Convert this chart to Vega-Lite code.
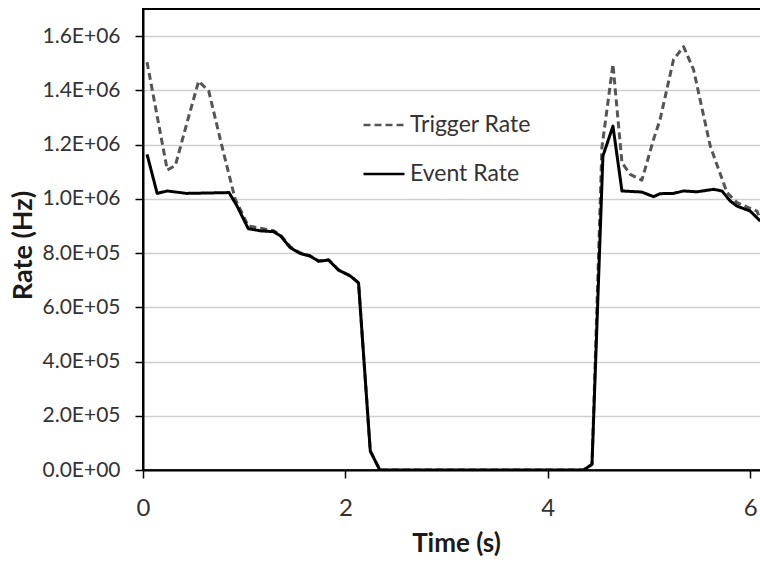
{
  "$schema": "https://vega.github.io/schema/vega-lite/v6.json",
  "width": 618,
  "height": 461,
  "autosize": {"type": "none"},
  "padding": {"left": 143, "top": 9, "right": 0, "bottom": 96},
  "background": "white",
  "config": {
    "view": {"stroke": "#000000", "strokeWidth": 2},
    "font": "Lato"
  },
  "data": {
    "values": [
      {"t": 0.04, "rate": 1504000, "series": "Trigger Rate"},
      {"t": 0.24, "rate": 1106000, "series": "Trigger Rate"},
      {"t": 0.32, "rate": 1123000, "series": "Trigger Rate"},
      {"t": 0.435, "rate": 1281000, "series": "Trigger Rate"},
      {"t": 0.55, "rate": 1434000, "series": "Trigger Rate"},
      {"t": 0.65, "rate": 1397000, "series": "Trigger Rate"},
      {"t": 0.78, "rate": 1194000, "series": "Trigger Rate"},
      {"t": 0.91, "rate": 1000000, "series": "Trigger Rate"},
      {"t": 1.04, "rate": 900000, "series": "Trigger Rate"},
      {"t": 1.23, "rate": 887000, "series": "Trigger Rate"},
      {"t": 1.29, "rate": 882000, "series": "Trigger Rate"},
      {"t": 1.36, "rate": 866000, "series": "Trigger Rate"},
      {"t": 1.455, "rate": 823000, "series": "Trigger Rate"},
      {"t": 1.55, "rate": 801000, "series": "Trigger Rate"},
      {"t": 1.65, "rate": 790000, "series": "Trigger Rate"},
      {"t": 1.735, "rate": 771000, "series": "Trigger Rate"},
      {"t": 1.834, "rate": 775000, "series": "Trigger Rate"},
      {"t": 1.933, "rate": 738000, "series": "Trigger Rate"},
      {"t": 2.05, "rate": 716000, "series": "Trigger Rate"},
      {"t": 2.13, "rate": 690000, "series": "Trigger Rate"},
      {"t": 2.246, "rate": 70000, "series": "Trigger Rate"},
      {"t": 2.34, "rate": 0, "series": "Trigger Rate"},
      {"t": 4.354, "rate": 0, "series": "Trigger Rate"},
      {"t": 4.437, "rate": 21000, "series": "Trigger Rate"},
      {"t": 4.535, "rate": 1189000, "series": "Trigger Rate"},
      {"t": 4.644, "rate": 1496000, "series": "Trigger Rate"},
      {"t": 4.733, "rate": 1133000, "series": "Trigger Rate"},
      {"t": 4.815, "rate": 1090000, "series": "Trigger Rate"},
      {"t": 4.93, "rate": 1069000, "series": "Trigger Rate"},
      {"t": 5.045, "rate": 1219000, "series": "Trigger Rate"},
      {"t": 5.11, "rate": 1293000, "series": "Trigger Rate"},
      {"t": 5.243, "rate": 1514000, "series": "Trigger Rate"},
      {"t": 5.342, "rate": 1561000, "series": "Trigger Rate"},
      {"t": 5.44, "rate": 1477000, "series": "Trigger Rate"},
      {"t": 5.606, "rate": 1194000, "series": "Trigger Rate"},
      {"t": 5.771, "rate": 1023000, "series": "Trigger Rate"},
      {"t": 5.87, "rate": 986000, "series": "Trigger Rate"},
      {"t": 6.0, "rate": 965000, "series": "Trigger Rate"},
      {"t": 6.067, "rate": 955000, "series": "Trigger Rate"},
      {"t": 6.1, "rate": 924000, "series": "Trigger Rate"},
      {"t": 0.04, "rate": 1164000, "series": "Event Rate"},
      {"t": 0.14, "rate": 1020000, "series": "Event Rate"},
      {"t": 0.24, "rate": 1029000, "series": "Event Rate"},
      {"t": 0.43, "rate": 1020000, "series": "Event Rate"},
      {"t": 0.85, "rate": 1023000, "series": "Event Rate"},
      {"t": 0.93, "rate": 973000, "series": "Event Rate"},
      {"t": 1.04, "rate": 890000, "series": "Event Rate"},
      {"t": 1.16, "rate": 882000, "series": "Event Rate"},
      {"t": 1.29, "rate": 879000, "series": "Event Rate"},
      {"t": 1.36, "rate": 863000, "series": "Event Rate"},
      {"t": 1.455, "rate": 820000, "series": "Event Rate"},
      {"t": 1.55, "rate": 799000, "series": "Event Rate"},
      {"t": 1.65, "rate": 789000, "series": "Event Rate"},
      {"t": 1.735, "rate": 770000, "series": "Event Rate"},
      {"t": 1.834, "rate": 774000, "series": "Event Rate"},
      {"t": 1.933, "rate": 737000, "series": "Event Rate"},
      {"t": 2.05, "rate": 715000, "series": "Event Rate"},
      {"t": 2.13, "rate": 690000, "series": "Event Rate"},
      {"t": 2.246, "rate": 70000, "series": "Event Rate"},
      {"t": 2.34, "rate": 0, "series": "Event Rate"},
      {"t": 4.354, "rate": 0, "series": "Event Rate"},
      {"t": 4.437, "rate": 21000, "series": "Event Rate"},
      {"t": 4.545, "rate": 1158000, "series": "Event Rate"},
      {"t": 4.644, "rate": 1268000, "series": "Event Rate"},
      {"t": 4.733, "rate": 1029000, "series": "Event Rate"},
      {"t": 4.93, "rate": 1025000, "series": "Event Rate"},
      {"t": 5.045, "rate": 1008000, "series": "Event Rate"},
      {"t": 5.11, "rate": 1019000, "series": "Event Rate"},
      {"t": 5.243, "rate": 1020000, "series": "Event Rate"},
      {"t": 5.342, "rate": 1029000, "series": "Event Rate"},
      {"t": 5.474, "rate": 1026000, "series": "Event Rate"},
      {"t": 5.638, "rate": 1035000, "series": "Event Rate"},
      {"t": 5.721, "rate": 1029000, "series": "Event Rate"},
      {"t": 5.803, "rate": 992000, "series": "Event Rate"},
      {"t": 5.87, "rate": 973000, "series": "Event Rate"},
      {"t": 6.0, "rate": 955000, "series": "Event Rate"},
      {"t": 6.1, "rate": 918000, "series": "Event Rate"}
    ]
  },
  "mark": {"type": "line", "strokeWidth": 3, "clip": true, "strokeJoin": "round"},
  "encoding": {
    "x": {
      "field": "t", "type": "quantitative",
      "scale": {"domain": [0, 6.107], "nice": false, "zero": false},
      "axis": {
        "title": "Time (s)", "values": [0, 2, 4, 6], "grid": false,
        "domainColor": "#000000", "domainWidth": 2,
        "tickColor": "#000000", "tickWidth": 1.5, "tickSize": 8,
        "labelFontSize": 24, "labelColor": "#333333", "labelPadding": 18,
        "labelFont": "Lato", "labelFlush": false,
        "titleFontSize": 26, "titleFontWeight": "bold", "titleColor": "#1a1a1a",
        "titleFont": "Lato", "titlePadding": 10, "titleX": 313
      }
    },
    "y": {
      "field": "rate", "type": "quantitative",
      "scale": {"domain": [0, 1700000], "nice": false},
      "axis": {
        "title": "Rate (Hz)",
        "values": [0, 200000, 400000, 600000, 800000, 1000000, 1200000, 1400000, 1600000],
        "labelExpr": "datum.value >= 1000000 ? format(datum.value/1000000, '.1f') + 'E+06' : (datum.value > 0 ? format(datum.value/100000, '.1f') + 'E+05' : '0.0E+00')",
        "grid": true, "gridColor": "#cfcfcf", "gridWidth": 1.5,
        "domainColor": "#000000", "domainWidth": 2,
        "tickColor": "#000000", "tickWidth": 1.5, "tickSize": 8,
        "labelFontSize": 21, "labelColor": "#333333", "labelPadding": 15,
        "labelFont": "Lato",
        "titleFontSize": 27, "titleFontWeight": "bold", "titleColor": "#1a1a1a",
        "titleFont": "Lato", "titlePadding": 5, "titleY": 236
      }
    },
    "color": {
      "field": "series", "type": "nominal",
      "scale": {"domain": ["Trigger Rate", "Event Rate"], "range": ["#555555", "#000000"]},
      "legend": {
        "title": null, "orient": "none", "legendX": 219, "legendY": 94,
        "symbolType": "stroke", "symbolSize": 1681, "symbolStrokeWidth": 2.5,
        "labelFontSize": 23, "labelColor": "#333333", "labelFont": "Lato",
        "labelOffset": 4, "rowPadding": 15, "padding": 0
      }
    },
    "strokeDash": {
      "field": "series", "type": "nominal",
      "scale": {"domain": ["Trigger Rate", "Event Rate"], "range": [[7, 4], [1, 0]]},
      "legend": {
        "title": null, "orient": "none", "legendX": 219, "legendY": 94,
        "symbolType": "stroke", "symbolSize": 1681, "symbolStrokeWidth": 2.5,
        "labelFontSize": 23, "labelColor": "#333333", "labelFont": "Lato",
        "labelOffset": 4, "rowPadding": 15, "padding": 0
      }
    },
    "order": {"field": "t", "type": "quantitative"}
  }
}
